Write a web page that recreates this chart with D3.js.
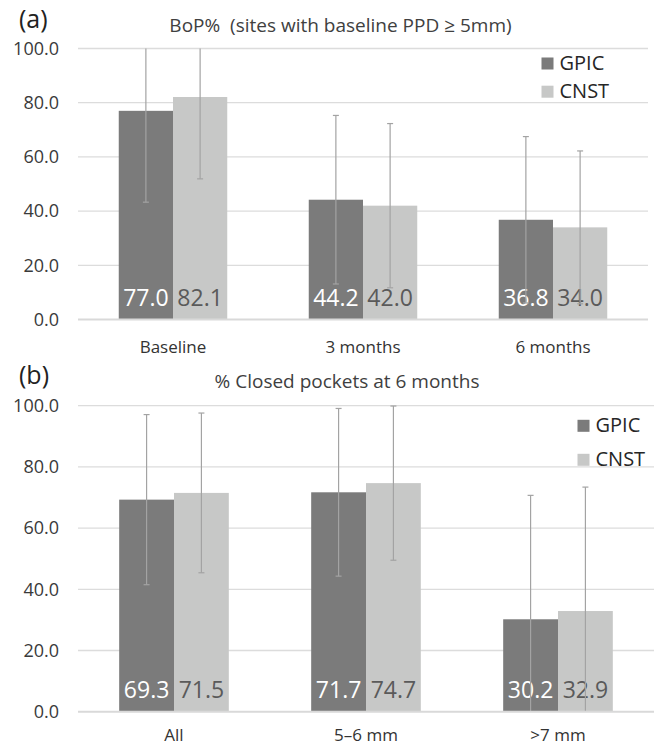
<!DOCTYPE html>
<html>
<head>
<meta charset="utf-8">
<script src="https://cdn.jsdelivr.net/npm/d3@7/dist/d3.min.js"></script>
<style>
  html, body { margin: 0; padding: 0; background: #fff; }
  svg { display: block; }
  text { font-family: "Open Sans", "Noto Sans", sans-serif; }
</style>
</head>
<body>
<svg id="chart" width="656" height="746"></svg>
<script>
// Panel (a): bleeding on probing, sites with baseline PPD >= 5 mm
const bopCategories = ["Baseline", "3 months", "6 months"];
const bopGpic = [77.0, 44.2, 36.8];
const bopCnst = [82.1, 42.0, 34.0];
const bopGpicSd = [33.7, 31.1, 30.7];
const bopCnstSd = [30.2, 30.3, 28.2];

// Panel (b): closed pockets at 6 months
const closedCategories = ["All", "5–6 mm", ">7 mm"];
const closedGpic = [69.3, 71.7, 30.2];
const closedCnst = [71.5, 74.7, 32.9];
const closedGpicSd = [27.8, 27.4, 40.5];
const closedCnstSd = [26.1, 25.2, 40.5];

const seriesNames = ["GPIC", "CNST"];
const yTicks = [0, 20, 40, 60, 80, 100];

const colors = { GPIC: "#7b7b7b", CNST: "#c7c8c7" };
const labelColors = { GPIC: "#ffffff", CNST: "#5a5a5a" };

const svg = d3.select("#chart");

function drawPanel(opt) {
  const g = svg.append("g");
  const x = d3.scaleBand().domain(opt.categories).range(opt.xRange).paddingInner(0).paddingOuter(0);
  const y = d3.scaleLinear().domain([0, 100]).range(opt.yRange);
  const barW = x.bandwidth() * 0.2855;
  const xs = d3.scaleBand().domain(seriesNames).range([x.bandwidth() / 2 - barW, x.bandwidth() / 2 + barW]);

  // gridlines
  g.append("g").selectAll("line").data(yTicks.filter(t => t > 0)).join("line")
    .attr("x1", opt.xRange[0]).attr("x2", opt.xRange[1])
    .attr("y1", d => y(d)).attr("y2", d => y(d))
    .attr("stroke", "#dcdcdc").attr("stroke-width", 1.3);

  // y axis labels
  const yAxis = d3.axisLeft(y).tickValues(yTicks).tickFormat(d3.format(".1f")).tickSize(0).tickPadding(19);
  const ya = g.append("g").attr("transform", `translate(${opt.xRange[0]},0)`).call(yAxis);
  ya.select(".domain").remove();
  ya.selectAll("text").attr("font-size", 18).attr("fill", "#3a3a3a")
    .attr("font-family", "'Open Sans', sans-serif");

  const rows = opt.categories.map((c, i) => ({
    cat: c,
    vals: [
      { s: "GPIC", v: opt.gpic[i], sd: opt.gpicSd[i] },
      { s: "CNST", v: opt.cnst[i], sd: opt.cnstSd[i] }
    ]
  }));

  const groups = g.append("g").selectAll("g").data(rows).join("g")
    .attr("transform", d => `translate(${x(d.cat)},0)`);

  // bars
  groups.selectAll("rect").data(d => d.vals).join("rect")
    .attr("x", d => xs(d.s)).attr("width", xs.bandwidth())
    .attr("y", d => y(d.v)).attr("height", d => y(0) - y(d.v))
    .attr("fill", d => colors[d.s]);

  // value labels at the base of each bar
  groups.selectAll("text.val").data(d => d.vals).join("text")
    .attr("class", "val")
    .attr("x", d => xs(d.s) + xs.bandwidth() / 2)
    .attr("y", y(0) - 13.8)
    .attr("text-anchor", "middle")
    .attr("font-size", 23)
    .attr("fill", d => labelColors[d.s])
    .text(d => d.v.toFixed(1));

  // error bars (±SD), clipped to the 0–100 range
  const eb = groups.selectAll("g.err").data(d => d.vals).join("g").attr("class", "err")
    .attr("stroke", "#a3a3a3").attr("stroke-width", 1.2);
  eb.each(function (d) {
    const cx = xs(d.s) + xs.bandwidth() / 2;
    const hi = d.v + d.sd, lo = d.v - d.sd;
    const e = d3.select(this);
    e.append("line").attr("x1", cx).attr("x2", cx)
      .attr("y1", y(Math.min(hi, 100))).attr("y2", y(Math.max(lo, 0)));
    if (hi <= 100) e.append("line").attr("x1", cx - 3).attr("x2", cx + 3).attr("y1", y(hi)).attr("y2", y(hi));
    if (lo >= 0) e.append("line").attr("x1", cx - 3).attr("x2", cx + 3).attr("y1", y(lo)).attr("y2", y(lo));
  });

  // category axis
  g.append("line").attr("x1", opt.xRange[0]).attr("x2", opt.xRange[1])
    .attr("y1", y(0)).attr("y2", y(0)).attr("stroke", "#d9d9d9").attr("stroke-width", 2);
  g.append("g").selectAll("text").data(opt.categories).join("text")
    .attr("x", d => x(d) + x.bandwidth() / 2)
    .attr("y", opt.catY)
    .attr("text-anchor", "middle")
    .attr("font-size", 17).attr("fill", "#333")
    .text(d => d);

  // title and panel tag
  g.append("text").attr("x", opt.titleX).attr("y", opt.titleY)
    .attr("text-anchor", "middle").attr("font-size", 19).attr("fill", "#404040")
    .style("white-space", "pre").text(opt.title);
  g.append("text").attr("x", 19).attr("y", opt.tagY)
    .attr("font-family", "'Liberation Sans', Arial, sans-serif")
    .attr("font-size", 25).attr("fill", "#222").text(opt.tag);

  // legend
  const lg = g.append("g").attr("transform", `translate(${opt.legend[0]},${opt.legend[1]})`);
  seriesNames.forEach((s, i) => {
    const yy = i * opt.legendGap;
    lg.append("rect").attr("x", 0).attr("y", yy - 12).attr("width", 12).attr("height", 12).attr("fill", colors[s]);
    lg.append("text").attr("x", 18).attr("y", yy).attr("font-size", 20).attr("fill", "#262626").text(s);
  });
}

drawPanel({
  categories: bopCategories, gpic: bopGpic, cnst: bopCnst, gpicSd: bopGpicSd, cnstSd: bopCnstSd,
  xRange: [78, 648], yRange: [319.5, 48.5], catY: 353,
  title: "BoP%  (sites with baseline PPD ≥ 5mm)", titleX: 340.5, titleY: 32.3,
  tag: "(a)", tagY: 27.5, legend: [541.5, 69.5], legendGap: 28.2
});

drawPanel({
  categories: closedCategories, gpic: closedGpic, cnst: closedCnst, gpicSd: closedGpicSd, cnstSd: closedCnstSd,
  xRange: [78, 654], yRange: [711.7, 405.7], catY: 741,
  title: "% Closed pockets at 6 months", titleX: 347, titleY: 388.3,
  tag: "(b)", tagY: 384, legend: [577.5, 431.8], legendGap: 34
});
</script>
</body>
</html>
